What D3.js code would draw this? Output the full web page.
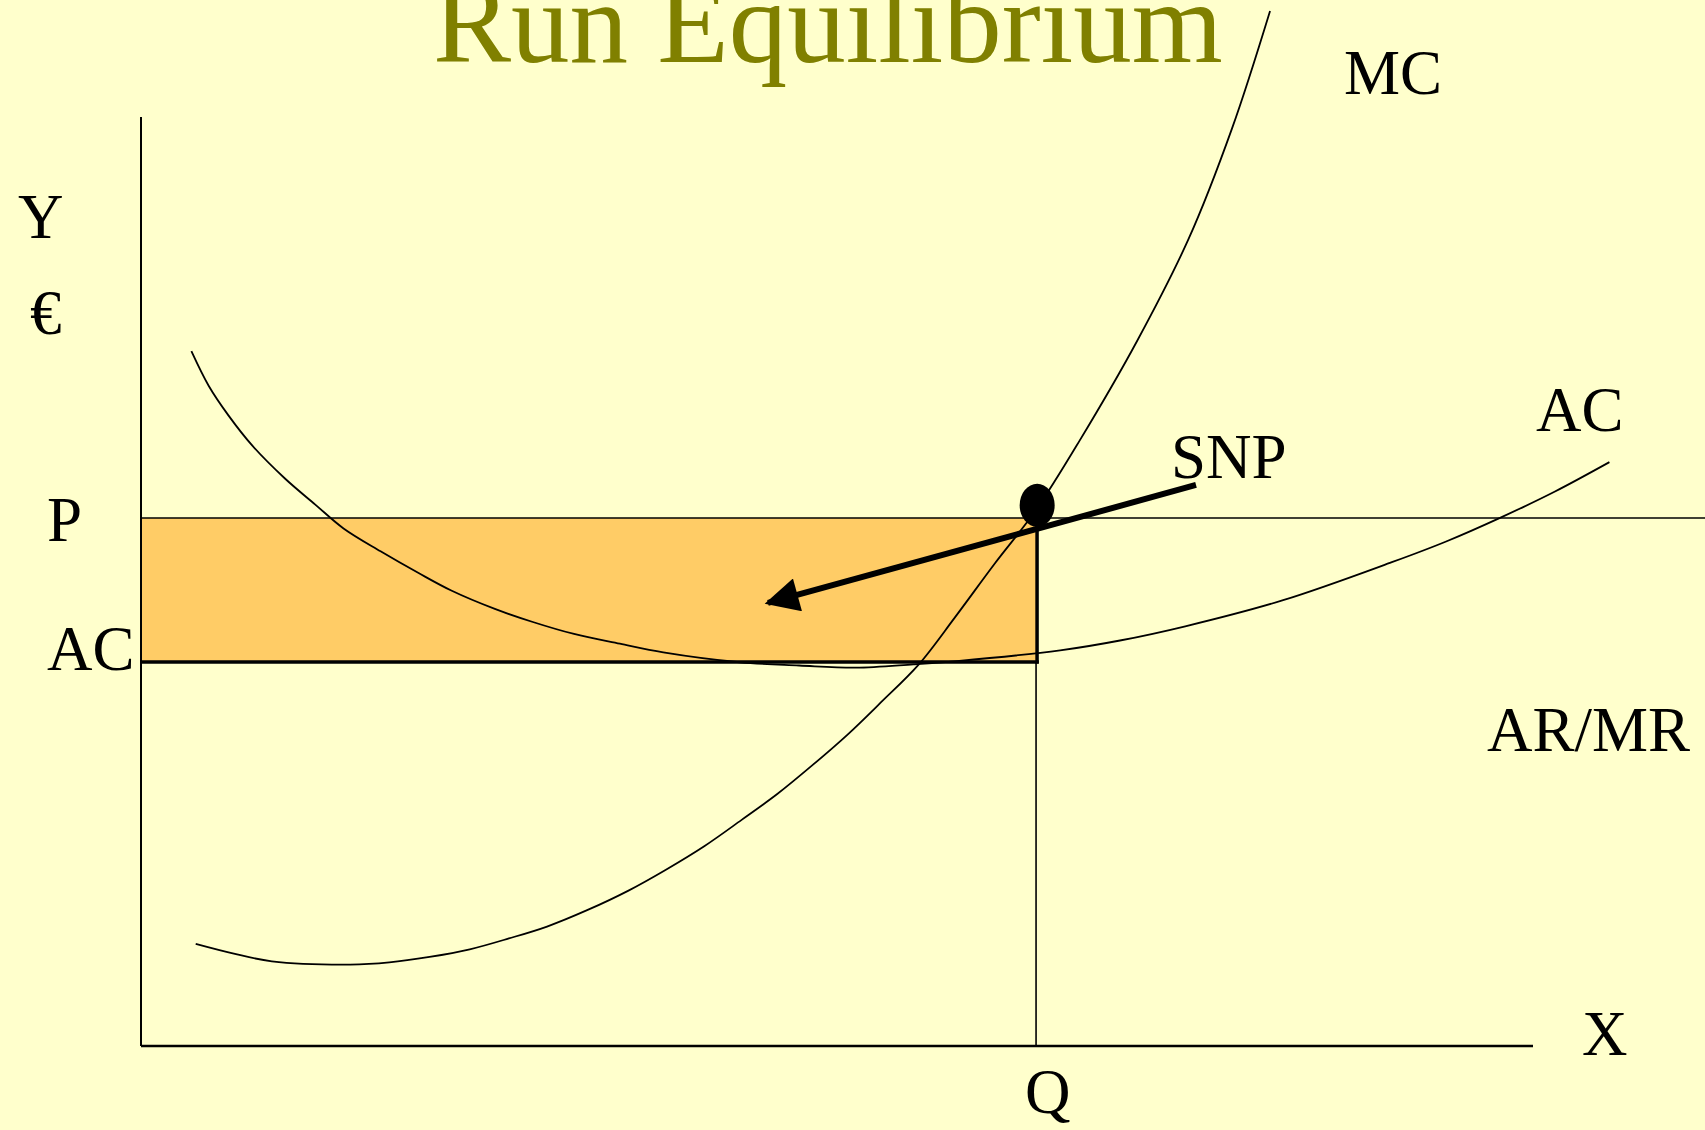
<!DOCTYPE html>
<html>
<head>
<meta charset="utf-8">
<script src="https://cdn.jsdelivr.net/npm/d3@7"></script>
<style>
  html, body { margin: 0; padding: 0; background: #FFFFCC; }
  svg { display: block; }
  text { font-family: "Liberation Serif", "Times New Roman", serif; }
</style>
</head>
<body>
<svg id="chart" width="1705" height="1130"></svg>
<script>
// ---- data (quantity 0..100 on X, price 0..100 on Y) ----
const title = "Run Equilibrium";
const priceP = 56.83;      // P level (AR/MR)
const priceAC = 41.33;     // AC level at Q
const quantityQ = 64.3;    // equilibrium quantity
const equilibriumPoint = [64.38, 58.2];
const snpArrow = [[75.79, 60.39], [45.04, 47.69]];

const acCurveQ = [3.62, 4.87, 6.28, 8.00, 10.34, 12.52, 14.55, 17.21, 19.94, 22.29, 25.42, 28.15, 31.11, 34.40, 37.52, 42.99, 47.28, 51.35, 55.49, 58.61, 66.03, 70.33, 75.02, 82.05, 89.86, 93.76, 97.67, 101.58, 105.49];
const acCurveP = [74.79, 71.04, 67.88, 64.62, 61.09, 58.28, 55.71, 53.25, 50.91, 49.03, 47.05, 45.64, 44.35, 43.30, 42.37, 41.31, 40.96, 40.72, 41.08, 41.43, 42.59, 43.65, 45.18, 47.99, 52.08, 54.31, 56.88, 59.69, 62.85];

const mcCurveQ = [3.93, 6.67, 9.40, 15.02, 17.84, 20.73, 23.62, 26.43, 29.17, 32.05, 35.02, 37.68, 40.49, 43.15, 45.73, 48.30, 50.80, 53.15, 55.88, 58.46, 61.35, 64.24, 67.44, 71.50, 75.25, 78.38, 81.11];
const mcCurveP = [10.99, 9.94, 9.12, 8.77, 9.00, 9.59, 10.41, 11.58, 12.86, 14.62, 16.73, 18.95, 21.53, 24.34, 27.15, 30.31, 33.58, 36.98, 41.08, 46.11, 51.96, 57.58, 65.19, 75.73, 86.85, 98.78, 111.42];

const yAxisLabels = ["Y", "€"];
const xAxisLabel = "X";
const priceLabels = ["P", "AC"];
const quantityLabel = "Q";
const curveLabels = ["MC", "AC", "SNP", "AR/MR"];

// ---- layout ----
const svg = d3.select("#chart");
const W = 1705, H = 1130;
svg.append("rect").attr("width", W).attr("height", H).attr("fill", "#FFFFCC");

const x = d3.scaleLinear().domain([0, 100]).range([141, 1533]);
const y = d3.scaleLinear().domain([0, 100]).range([1046, 117]);

// profit rectangle
svg.append("rect")
  .attr("x", x(0)).attr("y", y(priceP))
  .attr("width", x(quantityQ) - x(0))
  .attr("height", y(priceAC) - y(priceP))
  .attr("fill", "#FFCC66");

// Q vertical line (thin)
svg.append("line")
  .attr("x1", x(quantityQ)).attr("x2", x(quantityQ))
  .attr("y1", y(priceAC)).attr("y2", y(0))
  .attr("stroke", "#000").attr("stroke-width", 1.6);

// rectangle right edge (thick)
svg.append("line")
  .attr("x1", x(quantityQ) + 1).attr("x2", x(quantityQ) + 1)
  .attr("y1", y(priceP)).attr("y2", y(priceAC) + 1.5)
  .attr("stroke", "#000").attr("stroke-width", 3.5);

// P line (AR/MR)
svg.append("line")
  .attr("x1", x(0)).attr("x2", W)
  .attr("y1", y(priceP)).attr("y2", y(priceP))
  .attr("stroke", "#000").attr("stroke-width", 1.6);

// AC level line (thick)
svg.append("line")
  .attr("x1", x(0)).attr("x2", x(quantityQ) + 2.75)
  .attr("y1", y(priceAC)).attr("y2", y(priceAC))
  .attr("stroke", "#000").attr("stroke-width", 3.5);

// axes
svg.append("line")
  .attr("x1", x(0)).attr("x2", x(0))
  .attr("y1", y(100)).attr("y2", y(0))
  .attr("stroke", "#000").attr("stroke-width", 2);
svg.append("line")
  .attr("x1", x(0)).attr("x2", x(100))
  .attr("y1", y(0)).attr("y2", y(0))
  .attr("stroke", "#000").attr("stroke-width", 2.4);

// curves
const line = d3.line()
  .x(d => x(d[0])).y(d => y(d[1]))
  .curve(d3.curveCatmullRom.alpha(0.5));

const acPts = acCurveQ.map((q, i) => [q, acCurveP[i]]);
const mcPts = mcCurveQ.map((q, i) => [q, mcCurveP[i]]);

svg.append("path").datum(acPts).attr("d", line)
  .attr("fill", "none").attr("stroke", "#000").attr("stroke-width", 1.8);
svg.append("path").datum(mcPts).attr("d", line)
  .attr("fill", "none").attr("stroke", "#000").attr("stroke-width", 1.8);

// SNP arrow
const defs = svg.append("defs");
defs.append("marker")
  .attr("id", "arrowhead")
  .attr("viewBox", "0 0 10 10")
  .attr("refX", 9).attr("refY", 5)
  .attr("markerUnits", "userSpaceOnUse")
  .attr("markerWidth", 36).attr("markerHeight", 34)
  .attr("orient", "auto")
  .append("path").attr("d", "M0,0 L10,5 L0,10 Z").attr("fill", "#000");

svg.append("line")
  .attr("x1", x(snpArrow[0][0])).attr("y1", y(snpArrow[0][1]))
  .attr("x2", x(snpArrow[1][0])).attr("y2", y(snpArrow[1][1]))
  .attr("stroke", "#000").attr("stroke-width", 6)
  .attr("marker-end", "url(#arrowhead)");

// equilibrium dot
svg.append("ellipse")
  .attr("cx", x(equilibriumPoint[0])).attr("cy", y(equilibriumPoint[1]))
  .attr("rx", 17.5).attr("ry", 21.5)
  .attr("fill", "#000");

// title
svg.append("text")
  .attr("x", 433).attr("y", 62)
  .attr("font-size", 117).attr("fill", "#808000")
  .text(title);

// labels
const lab = (t, px, py, anchor) => svg.append("text")
  .attr("x", px).attr("y", py)
  .attr("font-size", 63).attr("fill", "#000")
  .attr("text-anchor", anchor || "start")
  .text(t);

lab(yAxisLabels[0], 18, 238);
lab(yAxisLabels[1], 30, 334);
lab(priceLabels[0], 47, y(priceP) + 23);
lab(priceLabels[1], 47, y(priceAC) + 8);
lab(quantityLabel, x(quantityQ) - 11, 1113);
lab(xAxisLabel, 1582, y(0) + 9);
lab(curveLabels[0], 1344, 94);
lab(curveLabels[1], 1536, 431);
lab(curveLabels[2], 1171, 478);
lab(curveLabels[3], 1487, 751);
</script>
</body>
</html>
